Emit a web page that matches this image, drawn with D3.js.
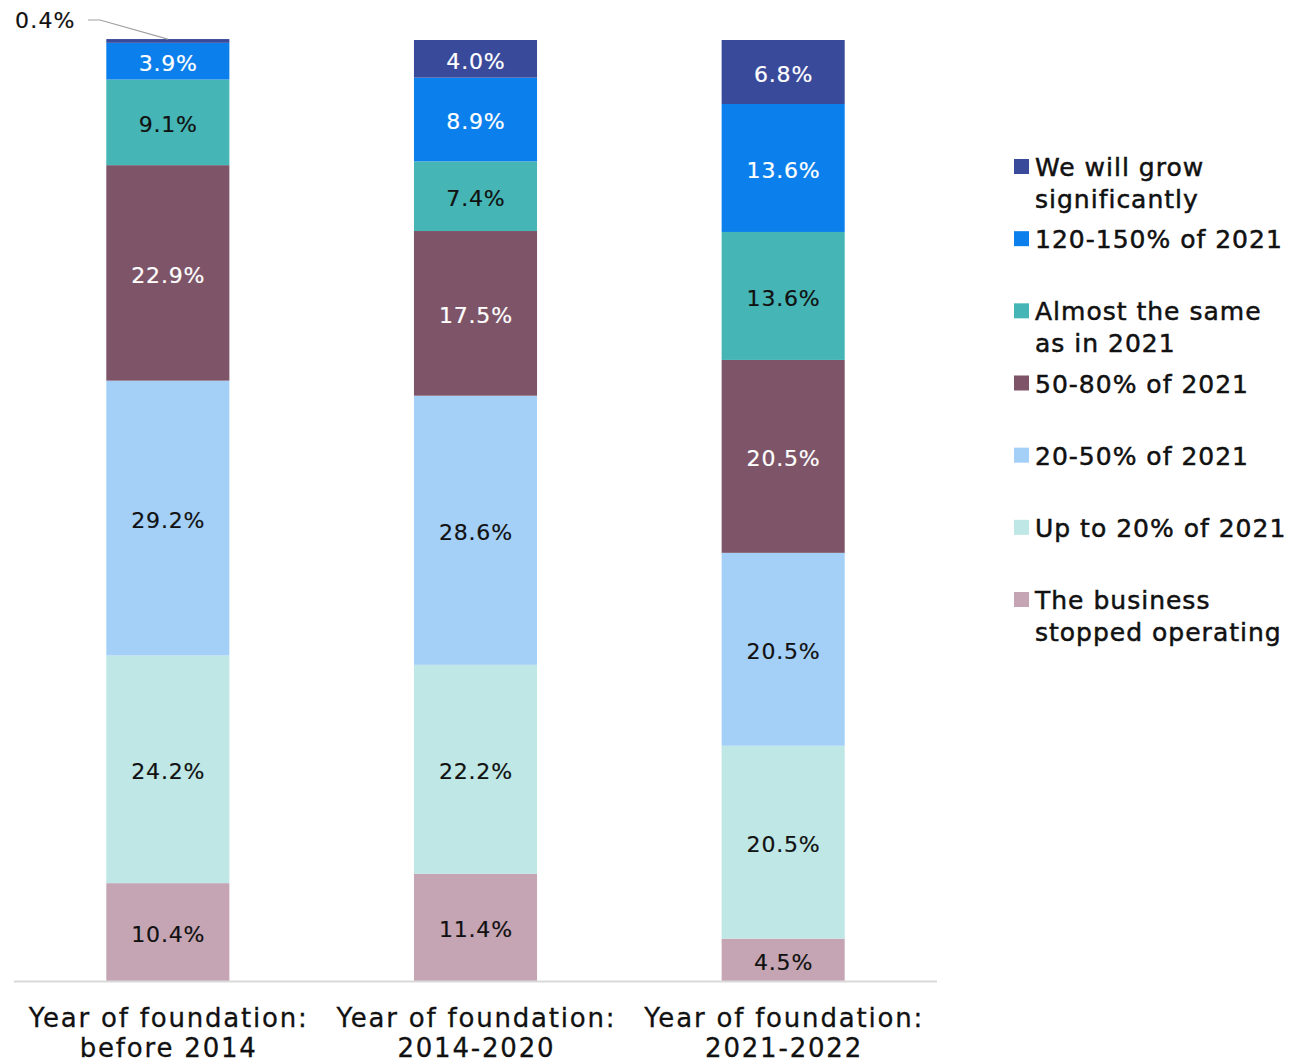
<!DOCTYPE html>
<html><head><meta charset="utf-8">
<script src="https://cdn.jsdelivr.net/npm/d3@7"></script>
<style>body{margin:0;background:#fff}svg{display:block}</style>
</head><body>
<svg id="chart" width="1312" height="1063"></svg>
<script>
const categories = ["before 2014", "2014-2020", "2021-2022"];
const categoryPrefix = "Year of foundation:";
const seriesNames = ["We will grow significantly","120-150% of 2021","Almost the same as in 2021","50-80% of 2021","20-50% of 2021","Up to 20% of 2021","The business stopped operating"];
const legendLines = [["We will grow","significantly"],["120-150% of 2021"],["Almost the same","as in 2021"],["50-80% of 2021"],["20-50% of 2021"],["Up to 20% of 2021"],["The business","stopped operating"]];
const grow = [0.4, 4.0, 6.8];
const up120 = [3.9, 8.9, 13.6];
const same = [9.1, 7.4, 13.6];
const p5080 = [22.9, 17.5, 20.5];
const p2050 = [29.2, 28.6, 20.5];
const upto20 = [24.2, 22.2, 20.5];
const stopped = [10.4, 11.4, 4.5];
const colors = ["#3a4a9a","#0b80ec","#45b6b5","#7e5568","#a4d0f8","#bee7e5","#c5a5b4"];
const labelColors = ["#fff","#fff","#111","#fff","#111","#111","#111"];

const seriesVals = [grow, up120, same, p5080, p2050, upto20, stopped];
const keys = seriesNames.slice();
const rows = categories.map((c,i)=>{const r={cat:c}; keys.forEach((k,j)=>r[k]=seriesVals[j][i]); return r;});
const stack = d3.stack().keys(keys.slice().reverse());
const stacked = stack(rows);

const svg = d3.select("#chart");
const x = d3.scaleBand().domain(categories).range([14, 937]).paddingInner(0.6).paddingOuter(0.3);
const y = d3.scaleLinear().domain([0,100]).range([981, 40]);
const color = d3.scaleOrdinal().domain(keys).range(colors);
const lcolor = d3.scaleOrdinal().domain(keys).range(labelColors);

const font = "'DejaVu Sans', sans-serif";
const g = svg.append("g");
stacked.forEach(layer=>{
  g.selectAll(null).data(layer).enter().append("rect")
    .attr("x", d=>x(d.data.cat)).attr("width", x.bandwidth())
    .attr("y", d=>y(d[1])).attr("height", d=>y(d[0])-y(d[1]))
    .attr("fill", color(layer.key));
});
stacked.forEach(layer=>{
  layer.forEach(d=>{
    const v = d[1]-d[0];
    const cx = x(d.data.cat)+x.bandwidth()/2;
    if (v < 1) {
      const yy = y(d[1]);
      svg.append("polyline").attr("points", `88,20 100,20 ${cx},${yy}`).attr("fill","none").attr("stroke","#a0a0a0").attr("stroke-width",1.2);
      svg.append("text").attr("x",15).attr("y",20).attr("dy","0.38em").attr("font-family",font).attr("font-size",22).attr("letter-spacing",1.2).attr("fill","#111").attr("stroke","#111").attr("stroke-width",0.2).text(v.toFixed(1)+"%");
    } else {
      const lc = lcolor(layer.key);
      svg.append("text").attr("x",cx+0.4).attr("y",(y(d[0])+y(d[1]))/2).attr("dy","0.45em").attr("text-anchor","middle")
        .attr("font-family",font).attr("font-size",22).attr("letter-spacing",0.8).attr("fill",lc).attr("stroke",lc).attr("stroke-width",0.2).text(v.toFixed(1)+"%");
    }
  });
});
svg.append("line").attr("x1",14).attr("x2",937).attr("y1",981.5).attr("y2",981.5).attr("stroke","#d9d9d9").attr("stroke-width",2);
categories.forEach(c=>{
  const cx = x(c)+x.bandwidth()/2;
  [categoryPrefix, c].forEach((ln,j)=>{
    svg.append("text").attr("text-anchor","middle").attr("font-family",font).attr("font-size",26)
      .attr("letter-spacing",1.8).attr("fill","#111").attr("stroke","#111").attr("stroke-width",0.3)
      .attr("x",cx+0.9).attr("y",1018+j*30).attr("dy","0.36em").text(ln);
  });
});
const legY = d3.scalePoint().domain(keys).range([167, 600]);
keys.forEach((k,i)=>{
  const yy = legY(k);
  svg.append("rect").attr("x",1014).attr("y",yy-8).attr("width",15).attr("height",15).attr("fill",color(k));
  legendLines[i].forEach((ln,j)=>{
    svg.append("text").attr("font-family",font).attr("font-size",25).attr("letter-spacing",1.0)
      .attr("fill","#111").attr("stroke","#111").attr("stroke-width",0.5)
      .attr("x",1035).attr("y",yy+j*32).attr("dy","0.36em").text(ln);
  });
});
</script>
</body></html>
